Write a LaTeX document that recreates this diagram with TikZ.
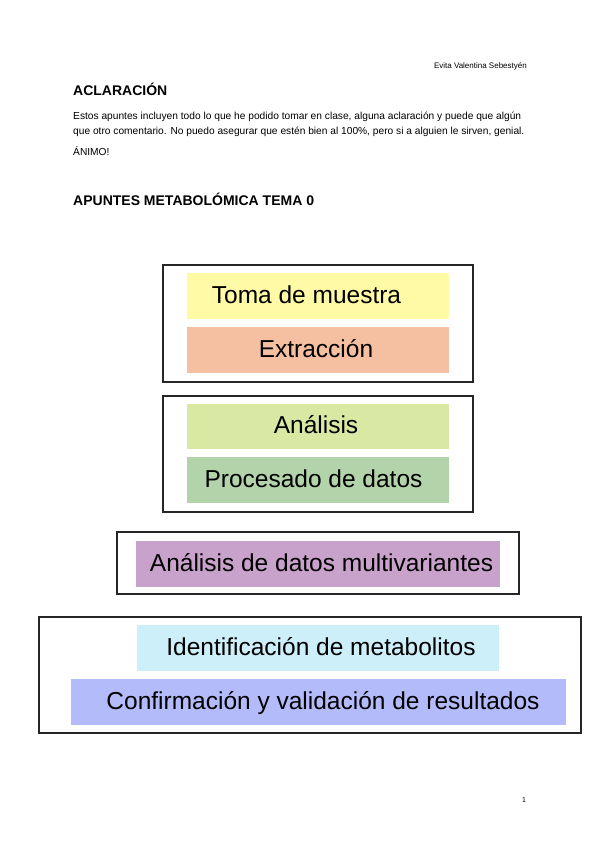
\documentclass[tikz,border=0pt]{standalone}
\usepackage{fontspec}
\setmainfont{Liberation Sans}
\usepackage{tikz}
\definecolor{amarillo}{RGB}{255,250,166}
\definecolor{salmon}{RGB}{244,192,161}
\definecolor{verdeclaro}{RGB}{217,232,163}
\definecolor{verde}{RGB}{179,212,170}
\definecolor{morado}{RGB}{201,162,204}
\definecolor{celeste}{RGB}{204,239,250}
\definecolor{lila}{RGB}{180,187,250}
\tikzset{
	marco/.style={draw=black!85,line width=1.1pt},
	rotulo/.style={anchor=base,inner sep=0pt,font=\fontsize{24.5}{28}\selectfont},
	texto/.style={anchor=base west,inner sep=0pt,font=\fontsize{10.2}{12}\selectfont},
	titulo/.style={anchor=base west,inner sep=0pt,font=\fontsize{14}{16}\selectfont\bfseries}
}

\begin{document}
\begin{tikzpicture}[x=1pt,y=-1pt]
	\fill[white] (0,0) rectangle (599,848);
	\useasboundingbox (0,0) rectangle (599,848);
	\node[anchor=base east,inner sep=0pt,font=\fontsize{8}{9}\selectfont] (autora) at (527,69) {Evita Valentina Sebestyén};
	\node[titulo] (aclaracion) at (73,96) {ACLARACIÓN};
	\node[texto] (linea1) at (73,119.5) {Estos apuntes incluyen todo lo que he podido tomar en clase, alguna aclaración y puede que algún};
	\node[texto] (linea2) at (73,134.5) {que otro comentario. No puedo asegurar que estén bien al 100\%, pero si a alguien le sirven, genial.};
	\node[texto] (animo) at (73,155) {ÁNIMO!};
	\node[titulo] (tema) at (73,205) {APUNTES METABOLÓMICA TEMA 0};
	\draw[marco] (163,265) rectangle (473,382);
	\fill[amarillo] (187,273) rectangle (449,319);
	\node[rotulo] (toma) at (306.5,303) {Toma de muestra};
	\fill[salmon] (187,327) rectangle (449,373);
	\node[rotulo] (extraccion) at (316,357) {Extracción};
	\draw[marco] (163,396) rectangle (473,512);
	\fill[verdeclaro] (187,404) rectangle (449,449);
	\node[rotulo] (analisis) at (316,433.5) {Análisis};
	\fill[verde] (187,457) rectangle (449,503);
	\node[rotulo] (procesado) at (313.5,487) {Procesado de datos};
	\draw[marco] (117,532) rectangle (519,594);
	\fill[morado] (136,541) rectangle (500,587);
	\node[rotulo] (multivariante) at (321.5,571) {Análisis de datos multivariantes};
	\draw[marco] (39,617) rectangle (581,733);
	\fill[celeste] (137,625) rectangle (499,671);
	\node[rotulo] (identificacion) at (321,655) {Identificación de metabolitos};
	\fill[lila] (71,679) rectangle (566,725);
	\node[rotulo] (confirmacion) at (323,709) {Confirmación y validación de resultados};
	\node[anchor=base,inner sep=0pt,font=\fontsize{7}{8}\selectfont] (pagina) at (524,802) {1};
\end{tikzpicture}
\end{document}
